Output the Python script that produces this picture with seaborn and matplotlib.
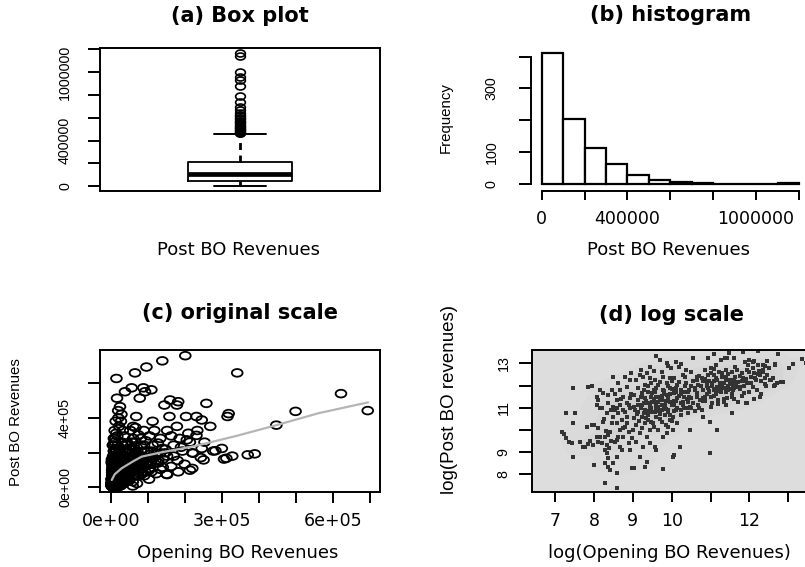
import numpy as np
import matplotlib
matplotlib.use("Agg")
import matplotlib.pyplot as plt
import seaborn as sns
from matplotlib.path import Path
from matplotlib.colors import LinearSegmentedColormap

# ---------------- data ----------------
# (a) box plot of Post BO Revenues: summary statistics and outliers
box_whislo = 6000
box_q1 = 50000
box_median = 108000
box_q3 = 211000
box_whishi = 455000
box_outliers = [462000, 470000, 478000, 486000, 494000, 503000, 512000, 521000,
                530000, 540000, 550000, 560000, 572000, 585000, 598000, 612000,
                628000, 645000, 665000, 690000, 740000, 790000, 875000, 930000,
                960000, 1000000, 1140000, 1165000]

# (b) histogram of Post BO Revenues
hist_breaks = [0, 100000, 200000, 300000, 400000, 500000, 600000, 700000,
               800000, 900000, 1000000, 1100000, 1200000]
hist_counts = [410, 203, 112, 64, 29, 14, 8, 4, 1, 1, 1, 2]

# (d) log(Opening BO Revenues) and log(Post BO revenues), one entry per movie
log_open = [
    7.17, 7.22, 7.28, 7.27, 7.45, 7.47, 7.45, 7.35, 7.43, 7.51, 7.64, 7.71, 7.77, 7.86, 7.94, 7.81, 7.94, 7.98, 7.85, 7.90,
    8.07, 8.11, 8.07, 8.16, 8.16, 8.24, 8.33, 8.24, 8.11, 8.16, 8.29, 8.37, 8.20, 8.33, 8.11, 8.29, 8.33, 8.37, 8.29, 8.37,
    8.41, 8.50, 8.29, 8.41, 8.46, 8.50, 8.50, 8.37, 8.46, 8.50, 8.00, 8.07, 8.00,
    8.59, 8.60, 8.67, 8.71, 8.63, 8.76, 8.67, 8.80, 8.59, 8.71, 8.84, 8.63, 8.76, 8.93, 8.67, 8.84, 8.59, 8.76, 8.93, 8.67,
    8.84, 8.63, 8.93, 8.80, 8.97, 8.93, 8.89, 8.97, 9.00, 8.54, 8.54, 8.59,
    9.04, 9.31, 9.36, 9.18, 9.44, 9.27, 9.09, 9.36, 9.18, 9.44, 9.09, 9.31, 9.48, 9.04, 9.23, 9.40, 9.13, 9.31, 9.48, 9.04,
    9.23, 9.40, 9.13, 9.31, 9.48, 9.04, 9.23, 9.40, 9.13, 9.31, 9.48, 9.09, 9.27, 9.44, 9.18, 9.36, 9.13,
    9.79, 9.61, 9.57, 9.79, 9.87, 9.91, 9.66, 9.53, 9.74, 9.96, 9.61, 9.83, 9.57, 9.74, 9.91, 9.66, 9.83, 9.57, 9.74, 9.96,
    9.66, 9.87, 9.57, 9.79, 9.96, 9.66, 9.87, 9.57, 9.79, 9.96, 9.60, 9.70, 9.87, 9.98, 9.61,
    10.03, 10.07, 10.21, 10.03, 10.15, 10.03, 10.24, 10.41, 10.11, 10.33, 10.46, 10.07, 10.24, 10.41, 10.15, 10.33,
    10.50, 10.07, 10.24, 10.41, 10.15, 10.37, 10.07, 10.28, 10.20, 10.37, 10.46,
    10.56, 10.73, 10.86, 10.64, 10.81, 10.94, 10.68, 10.90, 10.77, 10.94, 10.64, 10.86, 11.00, 10.69, 10.81, 10.98,
    10.98, 11.16, 10.77,
    11.04, 11.17, 11.30, 11.09, 11.21, 11.39, 11.13, 11.26, 11.43, 11.17, 11.34, 11.50, 11.09, 11.26, 11.43, 11.34,
    11.54, 11.54,
    11.58, 11.71, 11.84, 11.63, 11.80, 11.93, 11.67, 11.97, 11.88, 11.76, 11.93, 11.58, 11.71, 11.93, 11.63,
    12.04, 12.13, 12.27, 12.09, 12.22, 12.36, 12.04, 12.17, 12.41, 12.09, 12.44,
    11.08, 11.47, 11.84, 12.21, 12.74, 13.34, 13.45, 13.12, 13.01, 12.67, 12.46, 12.50, 12.35, 12.41, 11.98, 12.11,
    11.60, 11.38, 10.93, 10.54, 12.82, 12.65, 12.63, 12.55, 12.43, 12.27, 12.11, 11.92, 12.31, 12.35, 12.25, 12.23,
    12.53, 12.87, 12.66,
    9.10, 9.20, 9.30, 9.35, 9.45, 9.50, 9.55, 9.60, 9.65, 9.70, 9.75, 9.80, 9.85, 9.90, 9.95, 10.00, 10.05, 10.10,
    10.15, 10.20, 10.25, 10.30, 10.35, 10.40, 10.45, 9.20, 9.30, 9.40, 9.50, 9.60, 9.70, 9.80, 9.90, 10.00, 10.10,
    9.05, 9.15, 9.25, 9.40, 9.55, 9.70, 9.85, 10.00, 8.80, 8.90, 8.95, 8.85, 8.70, 8.75, 8.90, 8.60, 8.55, 8.45,
    8.35, 8.25, 8.20, 8.30, 8.45, 8.60, 8.40,
    11.10, 11.30, 11.45, 11.60, 11.75, 11.90, 12.00, 12.15, 11.20, 11.55, 11.85, 12.30, 10.60, 10.80, 10.90, 10.70,
    10.50, 10.60, 12.70, 12.61,
    10.25, 10.35, 10.45, 10.55, 10.65, 10.75, 10.85, 10.95, 11.05, 11.15, 11.25, 11.35, 11.45, 11.55,
    10.30, 10.40, 10.50, 10.60, 10.70, 10.80, 10.90, 11.00, 11.10, 11.20, 11.30, 11.40, 11.50,
    10.20, 10.35, 10.50, 10.65, 10.80, 10.95, 11.10, 11.25, 11.40,
    9.30, 9.45, 9.60, 9.75, 9.90, 10.05, 9.35, 9.50, 9.65, 9.80, 9.95, 10.10, 9.25, 9.40, 9.55, 9.70, 9.85, 10.00,
    9.20, 9.45, 9.75, 9.90, 10.10, 9.55, 10.25, 8.95,
    10.85, 10.95, 11.05, 11.15, 11.25, 11.35, 11.45, 11.55, 11.65, 11.75, 11.85,
    10.90, 11.00, 11.10, 11.20, 11.30, 11.40, 11.50, 11.60, 11.70, 11.80, 11.90,
    11.00, 11.20, 11.40, 11.60, 11.80, 12.00, 12.10, 12.20, 12.30, 12.40,
]
log_post = [
    9.92, 9.83, 9.65, 10.75, 11.87, 10.30, 8.80, 9.45, 9.40, 10.75, 9.47, 9.25, 9.25, 11.95, 12.00, 10.15, 10.20, 9.30, 9.35, 9.50,
    11.50, 11.35, 11.12, 10.97, 11.80, 11.65, 10.75, 10.37, 10.07, 9.70, 9.70, 9.77, 9.40, 9.32, 9.47, 9.10, 8.95, 8.72, 8.50, 8.35,
    8.20, 8.50, 7.62, 9.92, 10.30, 10.60, 11.05, 11.57, 11.80, 12.40, 10.20, 9.70, 8.42,
    7.37, 8.05, 9.25, 9.10, 9.70, 9.70, 10.00, 10.15, 10.30, 10.45, 10.60, 10.75, 10.90, 10.97, 11.12, 11.20, 11.35, 11.50, 11.42, 11.80,
    11.95, 12.10, 12.25, 12.40, 8.27, 9.10, 9.40, 9.62, 10.00, 10.90, 9.47, 8.80,
    8.27, 8.35, 8.57, 8.80, 9.40, 9.25, 9.47, 9.70, 9.85, 10.00, 10.22, 10.30, 10.37, 10.52, 10.60, 10.67, 10.82, 10.90, 10.97, 11.05,
    11.12, 11.20, 11.35, 11.42, 11.50, 11.57, 11.65, 11.72, 11.87, 12.02, 12.10, 12.25, 12.40, 12.32, 12.47, 12.55, 11.12,
    8.22, 9.10, 9.25, 9.70, 9.85, 10.15, 10.00, 10.30, 10.37, 10.45, 10.60, 10.67, 10.82, 10.90, 10.90, 11.05, 11.12, 11.27, 11.35, 11.27,
    11.50, 11.57, 11.72, 11.80, 11.87, 12.02, 12.10, 12.25, 12.40, 12.32, 13.35, 13.15, 13.00, 12.77, 11.12,
    8.80, 8.87, 9.25, 10.00, 10.30, 10.60, 10.67, 10.75, 10.90, 10.97, 11.05, 11.12, 11.20, 11.27, 11.42, 11.50,
    11.42, 11.65, 11.80, 11.72, 12.02, 12.10, 12.32, 12.47, 12.85, 12.70, 10.00,
    11.20, 11.35, 11.50, 11.65, 11.80, 11.87, 12.02, 12.10, 12.32, 12.47, 12.40, 12.70, 12.77, 11.12, 10.60, 10.37,
    8.95, 10.00, 10.90,
    12.10, 12.25, 12.40, 12.47, 12.62, 12.70, 12.92, 13.15, 13.22, 11.95, 12.10, 12.25, 11.80, 11.72, 11.42, 11.27,
    11.50, 10.75,
    12.02, 12.17, 12.32, 12.40, 12.55, 12.70, 12.70, 12.92, 13.07, 11.95, 12.10, 11.80, 11.27, 11.20, 12.85,
    12.40, 12.55, 12.47, 12.77, 12.92, 12.70, 12.10, 12.25, 12.32, 13.07, 12.47,
    13.40, 13.45, 13.50, 13.54, 13.40, 13.20, 13.00, 12.99, 12.79, 12.96, 13.09, 12.77, 12.92, 12.87, 13.13, 13.11,
    13.24, 13.26, 13.26, 13.22, 12.14, 12.03, 12.00, 12.26, 11.97, 11.50, 11.40, 11.23, 12.19, 12.61, 12.65, 12.52,
    12.25, 12.17, 12.92,
    10.70, 11.00, 10.75, 11.30, 11.10, 10.80, 11.40, 10.95, 11.25, 10.70, 11.55, 11.00, 11.30, 10.80, 11.60, 11.10, 10.85, 11.30,
    11.00, 11.55, 10.90, 11.25, 11.70, 11.00, 11.50, 11.50, 11.80, 12.00, 11.65, 11.90, 12.15, 11.75, 12.00, 12.20, 11.90,
    10.90, 10.40, 10.10, 10.45, 10.15, 10.50, 10.20, 10.40, 10.80, 11.10, 11.60, 10.30, 11.40, 10.10, 9.90, 11.00, 11.60, 10.90,
    11.20, 10.50, 11.00, 9.95, 9.50, 9.55, 9.20,
    12.20, 12.55, 12.00, 12.25, 12.45, 12.30, 12.60, 12.35, 11.90, 12.60, 12.00, 12.20, 11.90, 12.20, 11.60, 11.00,
    12.00, 10.85, 12.10, 12.32,
    11.60, 12.00, 11.80, 12.20, 11.50, 12.00, 12.30, 11.70, 12.00, 12.35, 12.10, 11.90, 12.50, 12.15,
    11.10, 11.40, 11.00, 11.80, 12.45, 11.30, 12.05, 12.55, 11.55, 11.75, 12.05, 12.25, 11.85,
    12.15, 12.40, 12.60, 12.25, 11.45, 12.20, 12.75, 11.90, 12.40,
    11.20, 11.00, 11.50, 11.10, 11.45, 11.30, 10.55, 11.25, 10.85, 11.60, 10.65, 11.70, 11.60, 10.85, 11.80, 11.40, 10.95, 11.85,
    12.70, 12.85, 12.60, 12.90, 13.05, 12.65, 12.95, 12.55,
    11.30, 11.75, 11.20, 11.60, 11.95, 11.40, 11.80, 11.60, 12.05, 11.85, 11.65,
    12.00, 11.50, 11.85, 11.35, 12.00, 11.70, 12.05, 11.40, 11.95, 11.55, 12.20,
    11.05, 11.15, 11.10, 11.90, 12.20, 11.70, 11.95, 11.80, 11.60, 12.05,
]

# (c) the same movies on the original scale
opening_rev = np.exp(np.array(log_open))
post_rev = np.exp(np.array(log_post))

# (c) smooth (loess) curve
loess_x = [2000, 10000, 29000, 60000, 83000, 137000, 227000, 340000, 448000, 560000, 695000]
loess_y = [42000, 75000, 110000, 150000, 177000, 202000, 238000, 297000, 359000, 427000, 490000]

# tick labels
a_yticks = [0, 200000, 400000, 600000, 800000, 1000000, 1200000]
a_ylabels = ['0', '', '400000', '', '', '1000000', '']
b_xticks = [0, 200000, 400000, 600000, 800000, 1000000, 1200000]
b_xlabels = ['0', '', '400000', '', '', '1000000', '']
b_yticks = [0, 100, 200, 300, 400]
b_ylabels = ['0', '100', '', '300', '']
c_xticks = [0, 100000, 200000, 300000, 400000, 500000, 600000, 700000]
c_xlabels = ['0e+00', '', '', '3e+05', '', '', '6e+05', '']
c_yticks = [0, 200000, 400000, 600000]
c_ylabels = ['0e+00', '', '4e+05', '']
d_xticks = [7, 8, 9, 10, 11, 12, 13]
d_xlabels = ['7', '8', '9', '10', '', '12', '']
d_yticks = [8, 9, 10, 11, 12, 13]
d_ylabels = ['8', '9', '', '11', '', '13']

# ---------------- styling ----------------
sns.set_theme(style="ticks")
plt.rcParams['font.family'] = ['DejaVu Sans']
plt.rcParams['axes.linewidth'] = 1.4
plt.rcParams['axes.edgecolor'] = 'black'
plt.rcParams['text.color'] = 'black'
plt.rcParams['axes.labelcolor'] = 'black'
plt.rcParams['axes.titlecolor'] = 'black'
plt.rcParams['xtick.color'] = 'black'
plt.rcParams['ytick.color'] = 'black'

HFONT = 'DejaVu Sans'
VFONT = 'Liberation Sans'
W, H = 805.0, 567.0


def pos(l, t, r, b):
    return [l / W, 1 - b / H, (r - l) / W, (b - t) / H]


circ = Path.unit_circle()
ellipse = Path(circ.vertices * np.array([1.4, 1.0]), circ.codes)

fig = plt.figure(figsize=(8.05, 5.67), dpi=100)
fig.patch.set_facecolor('white')

axA = fig.add_axes(pos(100, 48, 380, 191))
axB = fig.add_axes(pos(531.4, 48, 809.3, 190.5))
axC = fig.add_axes(pos(100, 350, 380, 491.7))
axD = fig.add_axes(pos(531.7, 350, 812, 492.3))


def style_ticks(ax, xticks, xlabels, yticks, ylabels, xlen, xpad, ylen, ypad, xsize=12.5, ysize=10.3):
    if xticks is None:
        ax.set_xticks([])
    else:
        ax.set_xticks(xticks, xlabels)
        ax.tick_params(axis='x', bottom=True, direction='out', length=xlen, width=1.4,
                       pad=xpad, colors='black')
        for t in ax.get_xticklabels():
            t.set_fontfamily(HFONT)
            t.set_fontsize(xsize)
            t.set_color('black')
    ax.set_yticks(yticks, ylabels)
    ax.tick_params(axis='y', left=True, direction='out', length=ylen, width=1.4,
                   pad=ypad, colors='black')
    for t in ax.get_yticklabels():
        t.set_fontfamily(VFONT)
        t.set_fontsize(ysize)
        t.set_rotation(90)
        t.set_va('center')
        t.set_ha('right')
        t.set_color('black')


def titles(ax, title, ty, xlabel, xl, ylabel=None, yl=None, ysize=10.8):
    ax.set_title(title, fontfamily=HFONT, fontweight='bold', fontsize=15, y=ty,
                 va='center', pad=0, color='black')
    ax.set_xlabel(xlabel, fontfamily=HFONT, fontsize=13, va='center', color='black')
    ax.xaxis.set_label_coords(*xl)
    if ylabel is not None:
        ax.set_ylabel(ylabel, fontfamily=VFONT, fontsize=ysize, va='center', color='black')
        ax.yaxis.set_label_coords(*yl)


# ---------------- (a) box plot ----------------
stats = [dict(whislo=box_whislo, q1=box_q1, med=box_median, q3=box_q3,
              whishi=box_whishi, fliers=box_outliers, label='')]
axA.bxp(stats, positions=[0], widths=0.37, showfliers=True,
        boxprops=dict(color='black', lw=1.3),
        medianprops=dict(color='black', lw=3.4),
        whiskerprops=dict(color='black', lw=2.0, linestyle=(0, (2.5, 2))),
        capprops=dict(color='black', lw=1.4),
        flierprops=dict(marker=ellipse, markerfacecolor='none', markeredgecolor='black',
                        markersize=7, markeredgewidth=1.2))
axA.set_xlim(-0.5, 0.5)
axA.set_ylim(-42000, 1211000)
style_ticks(axA, None, None, a_yticks, a_ylabels, 0, 0, 8.6, 11.5)
titles(axA, '(a) Box plot', 1.224, 'Post BO Revenues', (0.496, -0.413))

# ---------------- (b) histogram ----------------
bin_mids = [(hist_breaks[i] + hist_breaks[i + 1]) / 2 for i in range(len(hist_counts))]
sns.histplot(x=bin_mids, weights=hist_counts, bins=hist_breaks, ax=axB,
             color='white', edgecolor='black', linewidth=1.6, alpha=1.0)
axB.set_xlim(-48000, 1248000)
axB.set_ylim(-20, 427)
for s in ['top', 'right']:
    axB.spines[s].set_visible(False)
axB.spines['left'].set_bounds(0, 400)
axB.spines['bottom'].set_bounds(0, 1200000)
style_ticks(axB, b_xticks, b_xlabels, b_yticks, b_ylabels, 6.5, 7.2, 8.6, 15)
titles(axB, '(b) histogram', 1.232, 'Post BO Revenues', (0.495, -0.418),
       'Frequency', (-0.309, 0.509))

# ---------------- (c) original scale ----------------
sns.scatterplot(x=opening_rev, y=post_rev, ax=axC, marker=ellipse, s=60,
                facecolor='none', edgecolor='black', linewidth=1.3, legend=False)
sns.lineplot(x=loess_x, y=loess_y, ax=axC, color='#b5b5b5', lw=1.6,
             estimator=None, sort=False)
axC.set_xlim(-29700, 727000)
axC.set_ylim(-25400, 792000)
style_ticks(axC, c_xticks, c_xlabels, c_yticks, c_ylabels, 8, 6.5, 8.6, 11.5)
titles(axC, '(c) original scale', 1.261, 'Opening BO Revenues', (0.493, -0.433),
       'Post BO Revenues', (-0.30, 0.494))

# ---------------- (d) log scale ----------------
axD.set_facecolor('#dddddd')
gray_cmap = LinearSegmentedColormap.from_list('grays', ['#dcdcdc', '#bcbcbc'])
sns.kdeplot(x=log_open, y=log_post, ax=axD, fill=True, cmap=gray_cmap,
            levels=7, thresh=0.08, bw_adjust=0.7, alpha=0.8)
sns.scatterplot(x=log_open, y=log_post, ax=axD, marker='s', s=9,
                color='#333333', linewidth=0, legend=False)
axD.set_xlim(6.40, 13.61)
axD.set_ylim(7.19, 13.60)
style_ticks(axD, d_xticks, d_xlabels, d_yticks, d_ylabels, 7.2, 7.2, 9.4, 5.8)
titles(axD, '(d) log scale', 1.246, 'log(Opening BO Revenues)', (0.493, -0.427),
       'log(Post BO revenues)', (-0.295, 0.649), ysize=13.5)

fig.savefig('out.png', dpi=100)
